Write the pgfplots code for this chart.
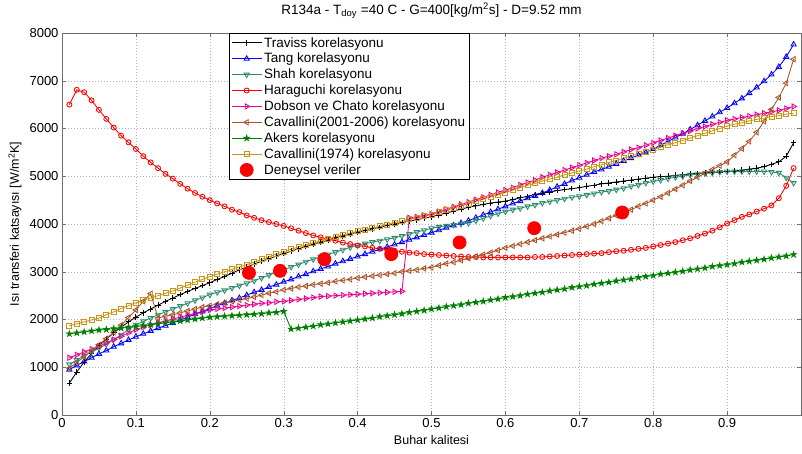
\documentclass[border=0pt]{standalone}
\usepackage{fontspec}
\setmainfont{Liberation Sans}
\usepackage{pgfplots}
\usepackage{pgfplotstable}
\pgfplotsset{compat=1.18}

\pgfdeclareplotmark{pentagram}{%
  \pgfpathmoveto{\pgfqpointpolar{90}{\pgfplotmarksize}}%
  \pgfpathlineto{\pgfqpointpolar{234}{\pgfplotmarksize}}%
  \pgfpathlineto{\pgfqpointpolar{18}{\pgfplotmarksize}}%
  \pgfpathlineto{\pgfqpointpolar{162}{\pgfplotmarksize}}%
  \pgfpathlineto{\pgfqpointpolar{306}{\pgfplotmarksize}}%
  \pgfpathclose
  \pgfusepathqfillstroke}

\definecolor{cshah}{RGB}{45,140,110}
\definecolor{cbrown}{RGB}{170,85,40}
\definecolor{cakers}{RGB}{0,128,0}
\definecolor{cgold}{RGB}{200,150,20}
\definecolor{axgray}{RGB}{110,110,110}

\pgfplotstableread{
x trav tang shah hara dob cavb akers cava
0.01 670 950 1060 6500 1200 980 1700 1870
0.02 900 1040 1150 6810 1260 1100 1720 1910
0.03 1110 1120 1240 6760 1320 1220 1740 1950
0.04 1290 1200 1320 6590 1380 1350 1760 1990
0.05 1450 1280 1400 6390 1440 1470 1780 2030
0.06 1590 1350 1480 6200 1510 1600 1790 2100
0.07 1720 1430 1580 6020 1580 1730 1810 2160
0.08 1840 1500 1680 5850 1650 1880 1820 2230
0.09 1950 1570 1790 5710 1720 2040 1840 2290
0.10 2050 1640 1890 5570 1790 2200 1850 2350
0.11 2140 1700 1960 5420 1840 2380 1870 2400
0.12 2220 1760 2030 5290 1890 2540 1890 2450
0.13 2300 1820 2100 5170 1930 2030 1910 2500
0.14 2380 1870 2160 5050 1970 2070 1930 2550
0.15 2450 1930 2220 4950 2010 2100 1950 2600
0.16 2520 1990 2280 4840 2050 2140 1970 2660
0.17 2590 2050 2340 4740 2090 2180 1990 2720
0.18 2650 2110 2400 4650 2130 2220 2010 2780
0.19 2710 2170 2460 4570 2160 2260 2030 2840
0.20 2770 2230 2520 4500 2200 2290 2050 2900
0.21 2840 2290 2570 4430 2220 2320 2060 2950
0.22 2900 2340 2610 4370 2240 2350 2070 3000
0.23 2970 2400 2660 4300 2260 2380 2080 3050
0.24 3040 2450 2710 4250 2280 2410 2090 3100
0.25 3100 2510 2760 4180 2300 2440 2100 3150
0.26 3160 2570 2810 4130 2320 2470 2110 3200
0.27 3220 2620 2870 4080 2340 2510 2120 3260
0.28 3270 2680 2930 4040 2350 2550 2140 3310
0.29 3330 2730 2990 4000 2370 2580 2150 3370
0.30 3380 2790 3040 3960 2380 2620 2170 3420
0.31 3430 2840 3100 3910 2400 2650 1800 3470
0.32 3480 2900 3150 3860 2420 2680 1820 3520
0.33 3530 2950 3210 3810 2440 2700 1840 3560
0.34 3580 3010 3260 3760 2460 2730 1860 3610
0.35 3620 3060 3310 3720 2480 2750 1890 3650
0.36 3660 3110 3360 3680 2490 2770 1910 3690
0.37 3710 3170 3410 3650 2500 2800 1930 3730
0.38 3750 3220 3460 3610 2510 2820 1950 3770
0.39 3790 3270 3510 3580 2520 2840 1970 3810
0.40 3830 3320 3560 3550 2530 2870 1990 3850
0.41 3860 3370 3590 3530 2540 2890 2010 3880
0.42 3900 3420 3620 3500 2550 2910 2030 3920
0.43 3930 3470 3650 3480 2560 2930 2060 3950
0.44 3970 3520 3680 3460 2570 2950 2080 3990
0.45 4000 3570 3710 3440 2580 2970 2100 4030
0.46 4030 3620 3750 3420 2590 3000 2120 4060
0.47 4060 3670 3790 3400 4130 3020 2150 4100
0.48 4090 3720 3830 3390 4150 3040 2170 4130
0.49 4120 3770 3870 3370 4180 3070 2190 4160
0.50 4150 3820 3910 3360 4210 3090 2220 4200
0.51 4190 3870 3940 3350 4260 3130 2240 4250
0.52 4230 3920 3960 3340 4310 3170 2270 4290
0.53 4270 3970 3980 3330 4360 3200 2290 4340
0.54 4310 4020 4000 3320 4410 3240 2310 4380
0.55 4350 4070 4020 3310 4460 3280 2340 4430
0.56 4380 4130 4070 3310 4510 3320 2360 4480
0.57 4410 4190 4120 3300 4560 3360 2380 4520
0.58 4440 4250 4170 3300 4610 3400 2410 4570
0.59 4460 4310 4220 3300 4660 3450 2430 4610
0.60 4480 4370 4260 3300 4710 3500 2460 4660
0.61 4510 4430 4300 3300 4760 3540 2480 4710
0.62 4550 4480 4330 3300 4820 3580 2500 4760
0.63 4580 4540 4370 3300 4870 3620 2530 4810
0.64 4620 4590 4400 3310 4920 3660 2550 4850
0.65 4650 4650 4440 3310 4980 3700 2570 4900
0.66 4670 4710 4470 3320 5030 3740 2600 4940
0.67 4700 4780 4500 3330 5080 3780 2620 4980
0.68 4720 4840 4530 3340 5130 3820 2640 5030
0.69 4740 4910 4560 3350 5180 3860 2670 5070
0.70 4760 4970 4580 3360 5230 3900 2690 5110
0.71 4790 5030 4610 3370 5280 3950 2710 5150
0.72 4810 5090 4640 3380 5330 4000 2740 5200
0.73 4840 5140 4670 3390 5380 4060 2760 5240
0.74 4860 5200 4690 3410 5420 4120 2780 5290
0.75 4880 5260 4720 3430 5460 4180 2810 5330
0.76 4900 5320 4750 3440 5510 4240 2830 5380
0.77 4920 5380 4790 3460 5560 4300 2850 5420
0.78 4940 5440 4820 3480 5600 4370 2880 5470
0.79 4960 5500 4860 3500 5650 4430 2900 5510
0.80 4980 5570 4890 3530 5700 4500 2920 5560
0.81 4990 5650 4920 3560 5750 4570 2950 5610
0.82 5000 5730 4950 3590 5800 4650 2970 5660
0.83 5020 5810 4980 3620 5850 4730 2990 5700
0.84 5030 5890 5000 3660 5900 4810 3010 5750
0.85 5050 5980 5030 3700 5950 4900 3040 5800
0.86 5060 6070 5040 3750 6000 4980 3060 5850
0.87 5070 6160 5060 3800 6040 5060 3080 5900
0.88 5080 6250 5070 3860 6090 5140 3110 5950
0.89 5090 6340 5090 3930 6130 5220 3130 6000
0.90 5100 6430 5100 4010 6170 5300 3150 6050
0.91 5110 6530 5100 4080 6200 5440 3170 6090
0.92 5130 6630 5100 4150 6230 5580 3200 6120
0.93 5150 6740 5100 4200 6260 5730 3220 6160
0.94 5170 6860 5100 4260 6290 5920 3240 6190
0.95 5200 6990 5100 4320 6320 6150 3260 6220
0.96 5250 7130 5090 4390 6350 6400 3290 6250
0.97 5300 7290 5070 4540 6380 6650 3310 6270
0.98 5420 7500 4970 4800 6420 6950 3330 6300
0.99 5700 7760 4860 5170 6460 7450 3360 6320
}\corr

\pgfplotstableread{
x h
0.253 2977
0.295 3019
0.355 3264
0.4455 3369
0.538 3613
0.639 3913
0.758 4241
}\exper

\begin{document}
\begin{tikzpicture}
\begin{axis}[
  scale only axis, width=739pt, height=382pt,
  xmin=0, xmax=1, ymin=0, ymax=8000,
  xtick={0,0.1,0.2,0.3,0.4,0.5,0.6,0.7,0.8,0.9},
  ytick={0,1000,2000,3000,4000,5000,6000,7000,8000},
  grid=major,
  grid style={dash pattern=on 1pt off 2pt, gray!60},
  tick align=inside, major tick length=4pt,
  axis line style={axgray, line width=0.6pt},
  every tick/.style={axgray},
  /pgf/number format/assume math mode=true,
  ticklabel style={font=\fontsize{13}{15}\selectfont},
  yticklabel style={/pgf/number format/1000 sep={}},
  xticklabel style={/pgf/number format/fixed},
  title={R134a - T\textsubscript{doy} =40 C - G=400[kg/m\textsuperscript{2}s] - D=9.52 mm},
  title style={font=\fontsize{13.5}{15}\selectfont, at={(axis description cs:0.5,1.043)}, anchor=center},
  xlabel={Buhar kalitesi},
  xlabel style={font=\fontsize{12.5}{14}\selectfont, at={(axis description cs:0.5,-0.066)}, anchor=center},
  ylabel={Isı transferi katsayısı [W/m\textsuperscript{2}K]},
  ylabel style={font=\fontsize{12.5}{14}\selectfont, at={(axis description cs:-0.0636,0.5)}, anchor=center, rotate=0},
  legend style={at={(0.226,1)}, anchor=north west, draw=black, fill=white,
    font=\fontsize{13.5}{15}\selectfont, line width=0.5pt, inner sep=2pt,
    row sep=0.6pt},
  legend cell align=left,
  legend image code/.code={\draw[mark repeat=2,mark phase=2,#1] plot coordinates {(0pt,0pt) (15pt,0pt) (30pt,0pt)};},
  every axis plot/.append style={line width=0.85pt},
]
\addplot[black, mark=+, mark size=2.8pt] table[x=x,y=trav] {\corr};
\addlegendentry{Traviss korelasyonu}
\addplot[blue, mark=triangle, mark size=3pt] table[x=x,y=tang] {\corr};
\addlegendentry{Tang korelasyonu}
\addplot[cshah, mark=triangle, mark size=3pt, mark options={rotate=180}] table[x=x,y=shah] {\corr};
\addlegendentry{Shah korelasyonu}
\addplot[red, mark=o, mark size=2.5pt] table[x=x,y=hara] {\corr};
\addlegendentry{Haraguchi korelasyonu}
\addplot[magenta, mark=triangle, mark size=3pt, mark options={rotate=-90}] table[x=x,y=dob] {\corr};
\addlegendentry{Dobson ve Chato korelasyonu}
\addplot[cbrown, mark=triangle, mark size=3pt, mark options={rotate=90}] table[x=x,y=cavb] {\corr};
\addlegendentry{Cavallini(2001-2006) korelasyonu}
\addplot[cakers, mark=pentagram, mark size=2.8pt, mark options={fill=cakers}] table[x=x,y=akers] {\corr};
\addlegendentry{Akers korelasyonu}
\addplot[cgold, mark=square, mark size=2.5pt] table[x=x,y=cava] {\corr};
\addlegendentry{Cavallini(1974) korelasyonu}
\addplot[only marks, red, mark=*, mark size=6.5pt, mark options={fill=red, draw=red}] table[x=x,y=h] {\exper};
\addlegendentry{Deneysel veriler}
\end{axis}
\pgfresetboundingbox
\path[use as bounding box] ([xshift=-62pt,yshift=-39pt]current axis.south west) rectangle ([xshift=1pt,yshift=33pt]current axis.north east);
\end{tikzpicture}
\end{document}
